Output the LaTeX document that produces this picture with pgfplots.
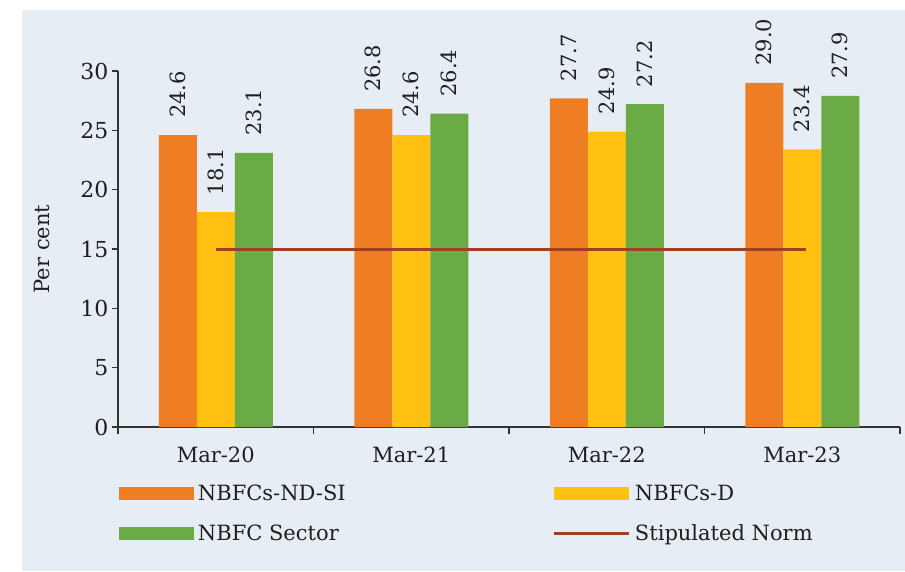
\documentclass[border=0pt]{standalone}
\usepackage{fontspec}
\setmainfont{DejaVu Serif}
\usepackage{pgfplots}
\pgfplotsset{compat=1.18}
\definecolor{bgc}{RGB}{230,237,245}
\definecolor{corange}{RGB}{239,125,35}
\definecolor{cyellow}{RGB}{255,192,18}
\definecolor{cgreen}{RGB}{106,171,69}
\definecolor{cnorm}{RGB}{160,64,32}
\definecolor{axc}{RGB}{50,50,50}
\definecolor{txc}{RGB}{30,30,30}
\pgfplotsset{
  vlab/.style={nodes near coords, nodes near coords style={xshift=#1, rotate=90, anchor=west, inner xsep=17pt, inner ysep=0pt, text=txc}},
}
\begin{document}
\begin{tikzpicture}
\useasboundingbox (0pt,0pt) rectangle (905pt,-571pt);
\fill[white] (0pt,0pt) rectangle (905pt,-571pt);
\fill[bgc] (22pt,-10pt) rectangle (905pt,-571pt);
\begin{axis}[
  at={(118pt,-427pt)}, anchor=south west,
  scale only axis, width=782pt, height=356pt,
  xmin=-0.5, xmax=3.5, ymin=0, ymax=30,
  clip=false,
  axis lines=left,
  axis line style={-, draw=axc, line width=1.3pt},
  font=\fontsize{21}{24}\selectfont,
  /pgf/number format/assume math mode=true,
  ytick={0,5,...,30},
  xtick={0,1,2,3},
  xticklabels={Mar-20,Mar-21,Mar-22,Mar-23},
  minor xtick={-0.5,0.5,1.5,2.5,3.5},
  tick align=outside,
  major tick length=6pt,
  minor tick length=7pt,
  major x tick style={draw=none},
  minor x tick style={draw=axc, line width=1.3pt},
  ytick style={draw=axc, line width=1.3pt},
  tick label style={text=txc},
  yticklabel style={font=\fontsize{22}{24}\selectfont},
  xticklabel style={yshift=-10pt},
  ylabel={Per cent},
  every axis y label/.style={at={(rel axis cs:0,0.5)}, xshift=-76pt, rotate=90, anchor=center, text=txc},
  legend columns=2,
  legend cell align=left,
  legend style={draw=none, fill=none, at={(0.001,-0.163)}, anchor=north west,
     inner sep=0pt, row sep=22pt,
     nodes={inner xsep=4pt, inner ysep=0pt, text=txc}},
  point meta=explicit symbolic,
]
\addplot[ybar, bar width=38pt, bar shift=-38pt, fill=corange, draw=none, vlab=-38pt,
  legend image code/.code={\fill[corange] (0pt,-6.5pt) rectangle (75pt,6.5pt);}]
  coordinates {(0,24.6)[24.6] (1,26.8)[26.8] (2,27.7)[27.7] (3,29.0)[29.0]};
\addlegendentry{\makebox[351pt][l]{NBFCs-ND-SI}}
\addplot[ybar, bar width=38pt, bar shift=0pt, fill=cyellow, draw=none, vlab=0pt,
  legend image code/.code={\fill[cyellow] (0pt,-6.5pt) rectangle (75pt,6.5pt);}]
  coordinates {(0,18.1)[18.1] (1,24.6)[24.6] (2,24.9)[24.9] (3,23.4)[23.4]};
\addlegendentry{NBFCs-D}
\addplot[ybar, bar width=38pt, bar shift=38pt, fill=cgreen, draw=none, vlab=38pt,
  legend image code/.code={\fill[cgreen] (0pt,-6.5pt) rectangle (75pt,6.5pt);}]
  coordinates {(0,23.1)[23.1] (1,26.4)[26.4] (2,27.2)[27.2] (3,27.9)[27.9]};
\addlegendentry{\makebox[351pt][l]{NBFC Sector}}
\addplot[sharp plot, color=cnorm, line width=3pt, mark=none, point meta=none,
  legend image code/.code={\draw[cnorm, line width=3pt] (0pt,0pt) -- (75pt,0pt);}]
  coordinates {(0,15) (3.02,15)};
\addlegendentry{Stipulated Norm}
\end{axis}
\end{tikzpicture}
\end{document}
